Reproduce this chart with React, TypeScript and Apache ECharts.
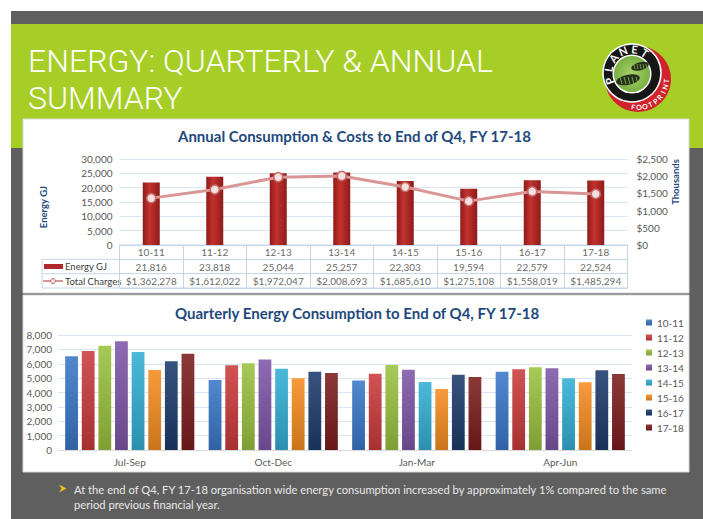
import React, { useEffect, useRef } from "react";
import * as echarts from "echarts";

const years = ["10-11", "11-12", "12-13", "13-14", "14-15", "15-16", "16-17", "17-18"];
const energyGJ = [21816, 23818, 25044, 25257, 22303, 19594, 22579, 22524];
const totalCharges = [1362278, 1612022, 1972047, 2008693, 1685610, 1275108, 1558019, 1485294];

const quarters = ["Jul-Sep", "Oct-Dec", "Jan-Mar", "Apr-Jun"];
const q1011 = [6530, 4870, 4830, 5450];
const q1112 = [6880, 5900, 5310, 5620];
const q1213 = [7250, 6040, 5920, 5760];
const q1314 = [7570, 6290, 5590, 5690];
const q1415 = [6810, 5660, 4730, 4990];
const q1516 = [5570, 4990, 4240, 4710];
const q1617 = [6180, 5450, 5240, 5550];
const q1718 = [6690, 5360, 5080, 5290];
const quarterlySeries = [q1011, q1112, q1213, q1314, q1415, q1516, q1617, q1718];
const yearColors = ["#3a78c9", "#cc3b3b", "#9bc23f", "#7f57a7", "#34b0d4", "#f68d21", "#1d3c6c", "#7c1d1d"];

const annualTitle = "Annual Consumption & Costs to End of Q4, FY 17-18";
const quarterlyTitle = "Quarterly Energy Consumption to End of Q4, FY 17-18";
const slideTitle1 = "ENERGY: QUARTERLY & ANNUAL";
const slideTitle2 = "SUMMARY";
const note1 = "At the end of Q4, FY 17-18 organisation wide energy consumption increased by approximately 1% compared to the same";
const note2 = "period previous financial year.";

const FONT = "Lato, 'Noto Sans', sans-serif";
const NAVY = "#1f497d";
const GRID_LINE = "#dbe5f1";
const TABLE_LINE = "#c6d5ea";

const fmt = (v: number) => String(Math.round(v)).replace(/\B(?=(\d{3})+(?!\d))/g, ",");

function shade(hex: string, f: number) {
  const n = parseInt(hex.slice(1), 16);
  let r = n >> 16, g = (n >> 8) & 255, b = n & 255;
  if (f >= 0) {
    r = r + (255 - r) * f; g = g + (255 - g) * f; b = b + (255 - b) * f;
  } else {
    r = r * (1 + f); g = g * (1 + f); b = b * (1 + f);
  }
  const h = (x: number) => Math.round(x).toString(16).padStart(2, "0");
  return "#" + h(r) + h(g) + h(b);
}

function logoElements() {
  const els: any[] = [];
  els.push({ type: "circle", shape: { cx: 638, cy: 79, r: 33 }, style: { fill: "#d2232c" } });
  els.push({ type: "circle", shape: { cx: 632, cy: 73, r: 29 }, style: { fill: "#161616", stroke: "#ffffff", lineWidth: 1.5 } });
  els.push({ type: "circle", shape: { cx: 632, cy: 74, r: 19.5 }, style: { fill: "#ffffff" } });
  els.push({
    type: "circle",
    shape: { cx: 632, cy: 74, r: 18 },
    style: {
      fill: new echarts.graphic.RadialGradient(0.5, 0.5, 0.6, [
        { offset: 0, color: "#a9d36b" },
        { offset: 1, color: "#6ea83a" },
      ]),
    },
  });
  els.push({ type: "ellipse", shape: { cx: 640, cy: 66, rx: 9, ry: 4 }, rotation: 0.25, originX: 640, originY: 66, style: { fill: "#26301c" } });
  els.push({ type: "ellipse", shape: { cx: 628, cy: 80, rx: 12, ry: 5 }, rotation: 0.2, originX: 628, originY: 80, style: { fill: "#26301c" } });
  for (let i = 0; i < 5; i++) {
    els.push({ type: "line", shape: { x1: 620 + i * 4, y1: 77, x2: 622 + i * 4, y2: 84 }, style: { stroke: "#8cc152", lineWidth: 0.8 } });
    els.push({ type: "line", shape: { x1: 634 + i * 3, y1: 64, x2: 635 + i * 3, y2: 69 }, style: { stroke: "#8cc152", lineWidth: 0.7 } });
  }
  const planet = "PLANET";
  const pAngles = [200, 170, 141, 112, 84, 57];
  planet.split("").forEach((ch, i) => {
    const a = (pAngles[i] * Math.PI) / 180;
    els.push({
      type: "text",
      x: 632 + 24 * Math.cos(a),
      y: 73 - 24 * Math.sin(a),
      rotation: a - Math.PI / 2,
      style: { text: ch, fill: "#ffffff", font: "bold 11px " + FONT, align: "center", verticalAlign: "middle" },
    });
  });
  const foot = "FOOTPRINT";
  foot.split("").forEach((ch, i) => {
    const a = ((-100 + i * 12) * Math.PI) / 180;
    els.push({
      type: "text",
      x: 638 + 28 * Math.cos(a),
      y: 79 - 28 * Math.sin(a),
      rotation: a + Math.PI / 2,
      style: { text: ch, fill: "#ffffff", font: "bold 7px " + FONT, align: "center", verticalAlign: "middle" },
    });
  });
  return els;
}

export default function App() {
  const ref = useRef<HTMLDivElement>(null);
  useEffect(() => {
    if (!ref.current) return;
    const chart = echarts.init(ref.current, undefined, { renderer: "svg" });

    const tableData: any[] = [];
    years.forEach((y, i) => {
      tableData.push([i, 0, y]);
      tableData.push([i, 1, fmt(energyGJ[i])]);
      tableData.push([i, 2, "$" + fmt(totalCharges[i])]);
    });

    const quarterlyBars = quarterlySeries.map((arr, k) => ({
      type: "bar",
      name: years[k],
      xAxisIndex: 2,
      yAxisIndex: 3,
      data: arr,
      barGap: "30%",
      barCategoryGap: "10%",
      itemStyle: {
        color: new echarts.graphic.LinearGradient(0, 0, 0, 1, [
          { offset: 0, color: shade(yearColors[k], 0.12) },
          { offset: 1, color: shade(yearColors[k], -0.18) },
        ]),
      },
    }));

    const labelStyle = { color: "#595959", fontSize: 10, fontFamily: FONT };

    chart.setOption({
      animation: false,
      backgroundColor: "#ffffff",
      title: [
        { text: annualTitle, left: 178, top: 128, padding: 0, textStyle: { color: NAVY, fontSize: 15, fontWeight: "bold", fontFamily: FONT } },
        { text: quarterlyTitle, left: 175, top: 305, padding: 0, textStyle: { color: NAVY, fontSize: 15, fontWeight: "bold", fontFamily: FONT } },
      ],
      legend: {
        data: years,
        orient: "vertical",
        left: 646,
        top: 316,
        padding: 0,
        itemWidth: 6,
        itemHeight: 6,
        itemGap: 2,
        icon: "rect",
        selectedMode: false,
        textStyle: { color: "#595959", fontSize: 10, fontFamily: FONT, lineHeight: 13 },
      },
      grid: [
        { left: 119.5, top: 159, width: 508, height: 86 },
        { left: 119.5, top: 245, width: 508, height: 43, show: true, borderColor: TABLE_LINE, borderWidth: 1 },
        { left: 58, top: 335, width: 574, height: 115 },
      ],
      xAxis: [
        { type: "category", gridIndex: 0, data: years, axisLabel: { show: false }, axisTick: { show: false }, axisLine: { show: false } },
        {
          type: "category", gridIndex: 1, data: years,
          axisLabel: { show: false }, axisTick: { show: false }, axisLine: { show: false },
          splitLine: { show: true, interval: 0, lineStyle: { color: TABLE_LINE } },
        },
        {
          type: "category", gridIndex: 2, data: quarters,
          axisTick: { show: false },
          axisLine: { lineStyle: { color: "#d9d9d9" } },
          axisLabel: { ...labelStyle, margin: 7 },
        },
      ],
      yAxis: [
        {
          type: "value", gridIndex: 0, min: 0, max: 30000, interval: 5000,
          axisLabel: { ...labelStyle, margin: 7, formatter: (v: number) => fmt(v) },
          axisLine: { show: false }, axisTick: { show: false },
          splitLine: { lineStyle: { color: GRID_LINE } },
        },
        {
          type: "value", gridIndex: 0, position: "right", min: 0, max: 2500, interval: 500,
          axisLabel: { ...labelStyle, margin: 9, formatter: (v: number) => "$" + fmt(v) },
          axisLine: { show: false }, axisTick: { show: false }, splitLine: { show: false },
        },
        {
          type: "category", gridIndex: 1, data: ["cat", "energy", "charges"], inverse: true,
          axisLabel: { show: false }, axisTick: { show: false }, axisLine: { show: false },
          splitLine: { show: true, interval: 0, lineStyle: { color: TABLE_LINE } },
        },
        {
          type: "value", gridIndex: 2, min: 0, max: 8000, interval: 1000,
          axisLabel: { ...labelStyle, margin: 6, formatter: (v: number) => fmt(v) },
          axisLine: { show: false }, axisTick: { show: false },
          splitLine: { lineStyle: { color: GRID_LINE } },
        },
      ],
      series: [
        {
          type: "bar", name: "Energy GJ", xAxisIndex: 0, yAxisIndex: 0, data: energyGJ, barWidth: 17,
          itemStyle: {
            color: new echarts.graphic.LinearGradient(0, 0, 1, 0, [
              { offset: 0, color: "#8e1b1b" },
              { offset: 0.4, color: "#c2322d" },
              { offset: 1, color: "#8e1b1b" },
            ]),
          },
        },
        {
          type: "line", name: "Total Charges", xAxisIndex: 0, yAxisIndex: 1,
          data: totalCharges.map((v) => v / 1000),
          z: 5,
          lineStyle: { color: "#d99694", width: 3 },
          symbol: "circle", symbolSize: 9,
          itemStyle: { color: "#f4e0df", borderColor: "#c56b68", borderWidth: 1.5 },
        },
        {
          type: "scatter", name: "table", xAxisIndex: 1, yAxisIndex: 2, data: tableData,
          symbolSize: 1, silent: true,
          itemStyle: { color: "rgba(0,0,0,0)" },
          label: { show: true, position: "inside", formatter: (p: any) => p.value[2], color: "#404040", fontSize: 10, fontFamily: FONT },
        },
        ...quarterlyBars,
      ],
      graphic: [
        { type: "rect", z: -10, shape: { x: 11, y: 11, width: 692, height: 508 }, style: { fill: "#5f5f5f" } },
        { type: "rect", z: -10, shape: { x: 11, y: 24, width: 692, height: 124 }, style: { fill: "#a6ce27" } },
        { type: "rect", z: -10, shape: { x: 23, y: 119, width: 666, height: 174 }, style: { fill: "#ffffff", stroke: "#d9d9d9", lineWidth: 1 } },
        { type: "rect", z: -10, shape: { x: 23, y: 295, width: 666, height: 177 }, style: { fill: "#ffffff", stroke: "#d9d9d9", lineWidth: 1 } },
        {
          type: "text", x: 28, y: 42,
          style: {
            text: slideTitle1 + "\n" + slideTitle2,
            fill: "#ffffff",
            font: "300 32px Roboto, 'Open Sans', sans-serif",
            lineHeight: 37.5,
            verticalAlign: "top",
          },
        },
        { type: "group", children: logoElements() },
        { type: "text", x: 43, y: 207, rotation: Math.PI / 2, style: { text: "Energy GJ", fill: NAVY, font: "bold 9.5px " + FONT, align: "center", verticalAlign: "middle" } },
        { type: "text", x: 675, y: 182, rotation: Math.PI / 2, style: { text: "Thousands", fill: NAVY, font: "bold 9.5px " + FONT, align: "center", verticalAlign: "middle" } },
        { type: "rect", shape: { x: 42, y: 259.3, width: 77.5, height: 28.7 }, style: { fill: "none", stroke: TABLE_LINE, lineWidth: 1 } },
        { type: "line", shape: { x1: 42, y1: 273.7, x2: 119.5, y2: 273.7 }, style: { stroke: TABLE_LINE, lineWidth: 1 } },
        { type: "rect", shape: { x: 44, y: 264, width: 19, height: 5 }, style: { fill: "#b0282a" } },
        { type: "text", x: 65, y: 266.5, style: { text: "Energy GJ", fill: "#404040", font: "9.5px " + FONT, verticalAlign: "middle" } },
        { type: "line", shape: { x1: 43, y1: 281, x2: 63, y2: 281 }, style: { stroke: "#d99694", lineWidth: 2 } },
        { type: "circle", shape: { cx: 53, cy: 281, r: 2.5 }, style: { fill: "#f4e0df", stroke: "#c56b68", lineWidth: 1 } },
        { type: "text", x: 65, y: 281, style: { text: "Total Charges", fill: "#404040", font: "9.5px " + FONT, verticalAlign: "middle" } },
        { type: "polygon", shape: { points: [[59, 484.5], [66.5, 488.5], [59, 492.5], [61.5, 488.5]] }, style: { fill: "#f0c419" } },
        { type: "text", x: 74, y: 489, style: { text: note1, fill: "#e8e8e8", font: "11.2px " + FONT, verticalAlign: "middle" } },
        { type: "text", x: 74, y: 504, style: { text: note2, fill: "#e8e8e8", font: "11.2px " + FONT, verticalAlign: "middle" } },
      ],
    });
    return () => chart.dispose();
  }, []);
  return <div ref={ref} style={{ position: "absolute", left: 0, top: 0, width: 703, height: 519 }} />;
}
